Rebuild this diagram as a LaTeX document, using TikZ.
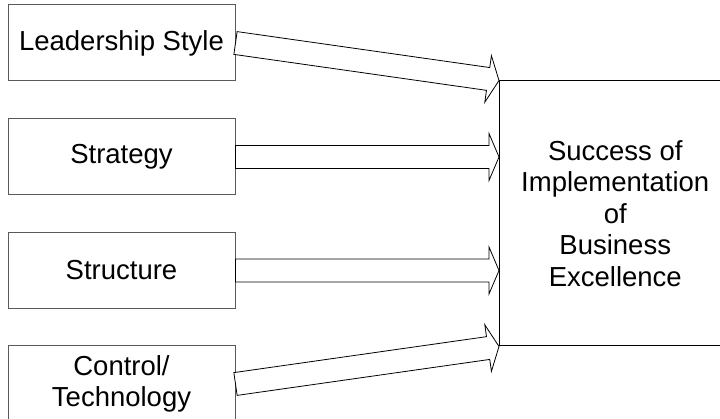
\documentclass[tikz,border=0pt]{standalone}
\usepackage{fontspec}
\setmainfont{Liberation Sans}
\usetikzlibrary{calc}
\definecolor{boxcol}{gray}{0.35}
\tikzset{
  factor/.style={draw=boxcol, line width=1pt, minimum width=227pt, minimum height=76pt,
    inner sep=0pt, font=\fontsize{27.5}{31.5}\selectfont, align=center},
  outcome/.style={draw=black, line width=1pt, minimum width=231.5pt, minimum height=265pt,
    inner sep=0pt, font=\fontsize{27.5}{31.5}\selectfont, align=center},
  fat/.style={draw=black, line width=0.8pt, fill=white, line join=miter},
}
\newcommand\fatarrow[3]{%
  \coordinate (hb) at ($(#2)!#3!(#1)$);
  \draw[fat] ($(#1)!11.5pt!90:(#2)$) -- ($(hb)!11.5pt!-90:(#1)$) -- ($(hb)!23.5pt!-90:(#1)$)
    -- (#2) -- ($(hb)!23.5pt!90:(#1)$) -- ($(hb)!11.5pt!90:(#1)$) -- ($(#1)!11.5pt!-90:(#2)$) -- cycle;
}
\begin{document}
\begin{tikzpicture}[x=1pt,y=-1pt]
  \useasboundingbox (0,0) rectangle (720,419);
  \clip (0,0) rectangle (720,419);
  \node[factor] (lead) at (121.5,43) {Leadership Style};
  \node[factor] (strat) at (121.5,157) {Strategy};
  \node[factor] (struct) at (121.5,270.5) {Structure};
  \node[factor] (ctrl) at (121.5,384) {Control/\\Technology};
  \node[outcome] (succ) at (615.25,213.5) {Success of\\Implementation\\of\\Business\\Excellence};
  \coordinate (t1) at (succ.north west);
  \coordinate (t2) at (succ.west |- strat.east);
  \coordinate (t3) at (succ.west |- struct.east);
  \coordinate (t4) at (succ.south west);
  \fatarrow{lead.east}{t1}{11pt}
  \fatarrow{strat.east}{t2}{10pt}
  \fatarrow{struct.east}{t3}{10pt}
  \fatarrow{ctrl.east}{t4}{11pt}
\end{tikzpicture}
\end{document}
